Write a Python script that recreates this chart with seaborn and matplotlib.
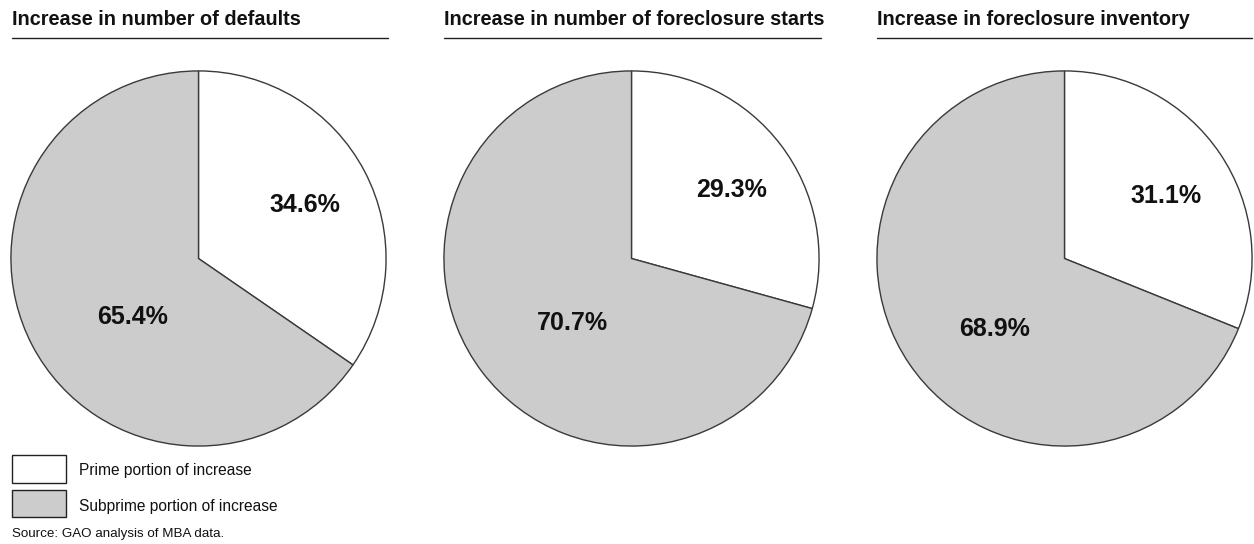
import matplotlib
matplotlib.use("Agg")
import matplotlib.pyplot as plt
from matplotlib.patches import Rectangle
from matplotlib.lines import Line2D
import seaborn as sns

# Shares of each increase, in percent
titles = [
    "Increase in number of defaults",
    "Increase in number of foreclosure starts",
    "Increase in foreclosure inventory",
]
prime_share = [34.6, 29.3, 31.1]
subprime_share = [65.4, 70.7, 68.9]
legend_labels = ["Prime portion of increase", "Subprime portion of increase"]
source_note = "Source: GAO analysis of MBA data."

sns.set_theme(style="white")
plt.rcParams["font.family"] = ["Liberation Sans", "DejaVu Sans"]

colors = ["#ffffff", "#cccccc"]
edge = "#3a3a3a"

W, H = 1254, 544
fig = plt.figure(figsize=(W / 100, H / 100), dpi=100)
fig.patch.set_facecolor("white")

def fx(px):
    return px / W

def fy(py):
    return 1 - py / H

pie_left = [10, 443, 876]
pie_size = 377
pie_top = 70
title_left = [12, 444, 877]
rule_right = [388, 821, 1252]
# label anchor (x centre, baseline) in pie-radius units: prime, subprime
label_pos = [
    [(0.570, 0.247), (-0.353, -0.347)],
    [(0.536, 0.326), (-0.316, -0.379)],
    [(0.541, 0.294), (-0.371, -0.411)],
]

for i in range(3):
    ax = fig.add_axes([fx(pie_left[i]), fy(pie_top + pie_size),
                       fx(pie_size), pie_size / H])
    ax.pie(
        [prime_share[i], subprime_share[i]],
        colors=colors,
        startangle=90,
        counterclock=False,
        radius=1,
        wedgeprops=dict(edgecolor=edge, linewidth=1.0),
    )
    ax.set_xlim(-1.005, 1.005)
    ax.set_ylim(-1.005, 1.005)
    ax.set_aspect("equal")
    ax.axis("off")
    for (x, y), v in zip(label_pos[i], [prime_share[i], subprime_share[i]]):
        ax.text(x, y, f"{v:.1f}%", ha="center", va="baseline",
                fontsize=18, fontweight="bold", color="#111111")

    fig.text(fx(title_left[i]), fy(25), titles[i], ha="left", va="baseline",
             fontsize=14.3, fontweight="bold", color="#111111")
    fig.add_artist(Line2D([fx(title_left[i]), fx(rule_right[i])],
                          [fy(37.5), fy(37.5)], color="#222222", linewidth=1.0))

# legend swatches
for j, (lab, c) in enumerate(zip(legend_labels, colors)):
    top = 455 + j * 34.5
    fig.add_artist(Rectangle((fx(12), fy(top + 27.5)), fx(53.5), 27.5 / H,
                             facecolor=c, edgecolor="#222222", linewidth=1.0))
    fig.text(fx(79), fy(475 + j * 36.5), lab, ha="left", va="baseline",
             fontsize=11.2, color="#111111")

fig.text(fx(12), fy(537), source_note, ha="left", va="baseline",
         fontsize=9.6, color="#111111")

fig.savefig("out.png", dpi=100, facecolor="white")
